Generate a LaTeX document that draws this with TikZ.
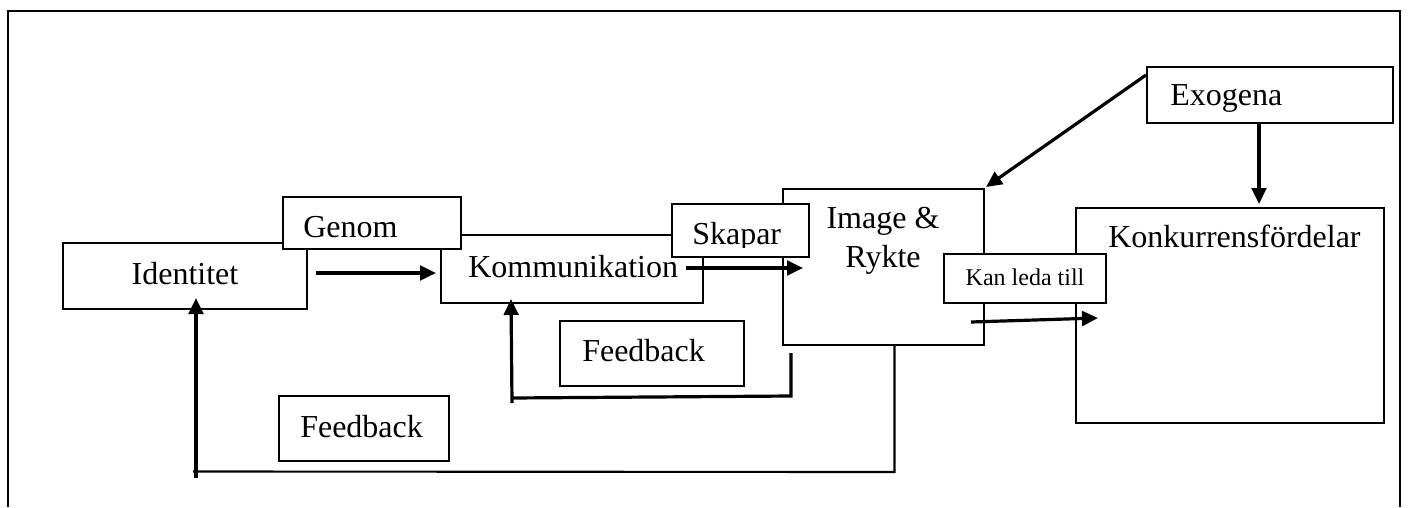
\documentclass[tikz,border=0pt]{standalone}
\usepackage{fontspec}
\setmainfont{Liberation Serif}
\usetikzlibrary{arrows.meta,fit,calc}
\tikzset{
  box/.style={draw, line width=1.5pt, fill=white, inner sep=0pt},
  txt/.style={inner sep=0pt, font=\fontsize{24}{28}\selectfont},
  smalltxt/.style={inner sep=0pt, font=\fontsize{18}{21}\selectfont},
  arr/.style={line width=2.4pt, -{Triangle[length=12pt,width=11pt]}},
  fbline/.style={line width=1.6pt},
}
\begin{document}
\begin{tikzpicture}[x=0.75pt,y=-0.75pt]
\useasboundingbox (0,0) rectangle (1408,507);

% outer frame, open at the bottom
\coordinate (fbl) at (8,507);
\coordinate (ftl) at (8,11);
\coordinate (ftr) at (1400,11);
\coordinate (fbr) at (1400,507);
\draw[line width=1.6pt] (fbl) -- (ftl) -- (ftr) -- (fbr);

% main boxes
\node[box, fit={(63,243) (307,309)}] (ident) {};
\node[box, fit={(441,235) (703,303)}] (komm) {};
\node[box, fit={(283,197) (461,249)}] (genom) {};
\node[box, fit={(783,189) (984,345)}] (image) {};
\node[box, fit={(672,204) (809,257)}] (skapar) {};
\node[box, fit={(1076,208) (1384,423)}] (konk) {};
\node[box, fit={(944,254) (1106,303)}] (kan) {};
\node[box, fit={(1147,67) (1393,123)}] (exo) {};
\node[box, fit={(279,396) (449,461)}] (fbA) {};
\node[box, fit={(560,321) (744,386)}] (fbB) {};

% texts
\node[txt, anchor=base] (identT) at (185,284) {Identitet};
\node[txt, anchor=base west] (genomT) at (303,237) {Genom};
\node[txt, anchor=base west] (kommT) at (468,277) {Kommunikation};
\begin{scope}
  \clip (skapar.north west) rectangle ($(skapar.south east)+(0,-11)$);
  \node[txt, anchor=base west] (skaparT) at (692,244) {Skapar};
\end{scope}
\node[txt, anchor=base] (imgT1) at (883,228) {Image \&};
\node[txt, anchor=base] (imgT2) at (883,267) {Rykte};
\node[smalltxt, anchor=base] (kanT) at (1025,285) {Kan leda till};
\node[txt, anchor=base west] (konkT) at (1108,247) {Konkurrensfördelar};
\node[txt, anchor=base west] (exoT) at (1170,105) {Exogena};
\node[txt, anchor=base west] (fbAT) at (300,437) {Feedback};
\node[txt, anchor=base west] (fbBT) at (582,361) {Feedback};

% forward arrows
\draw[arr] ($(ident.east)+(8,-3)$) -- ($(komm.west)+(-4,4)$);
\draw[arr] ($(komm.east)+(-18,-1)$) -- ($(image.west)+(21,1)$);
\draw[arr] ($(kan.south west)+(28,18)$) -- ($(konk.west)+(23,2.5)$);
\draw[arr] (exo.north west |- 0,75) -- ($(image.north east)+(1,-1)$);
\draw[arr] ($(exo.south)+(-11,-1)$) -- ($(konk.north)+(29,-3)$);

% feedback from image to kommunikation
\draw[fbline, line width=2.4pt] ($(image.south west)+(9,7)$) -- ($(image.south west)+(9,50)$)
  -- (512,398);
\draw[arr] (512,403) -- ($(komm.south west)+(71,-5)$);

% feedback from image to identitet
\draw[fbline] ($(image.south)+(11,0)$) -- ($(image.south)+(11,126)$) -- (193,471.5);
\draw[arr] (196,478) -- ($(ident.south)+(11,-12)$);
\end{tikzpicture}
\end{document}
